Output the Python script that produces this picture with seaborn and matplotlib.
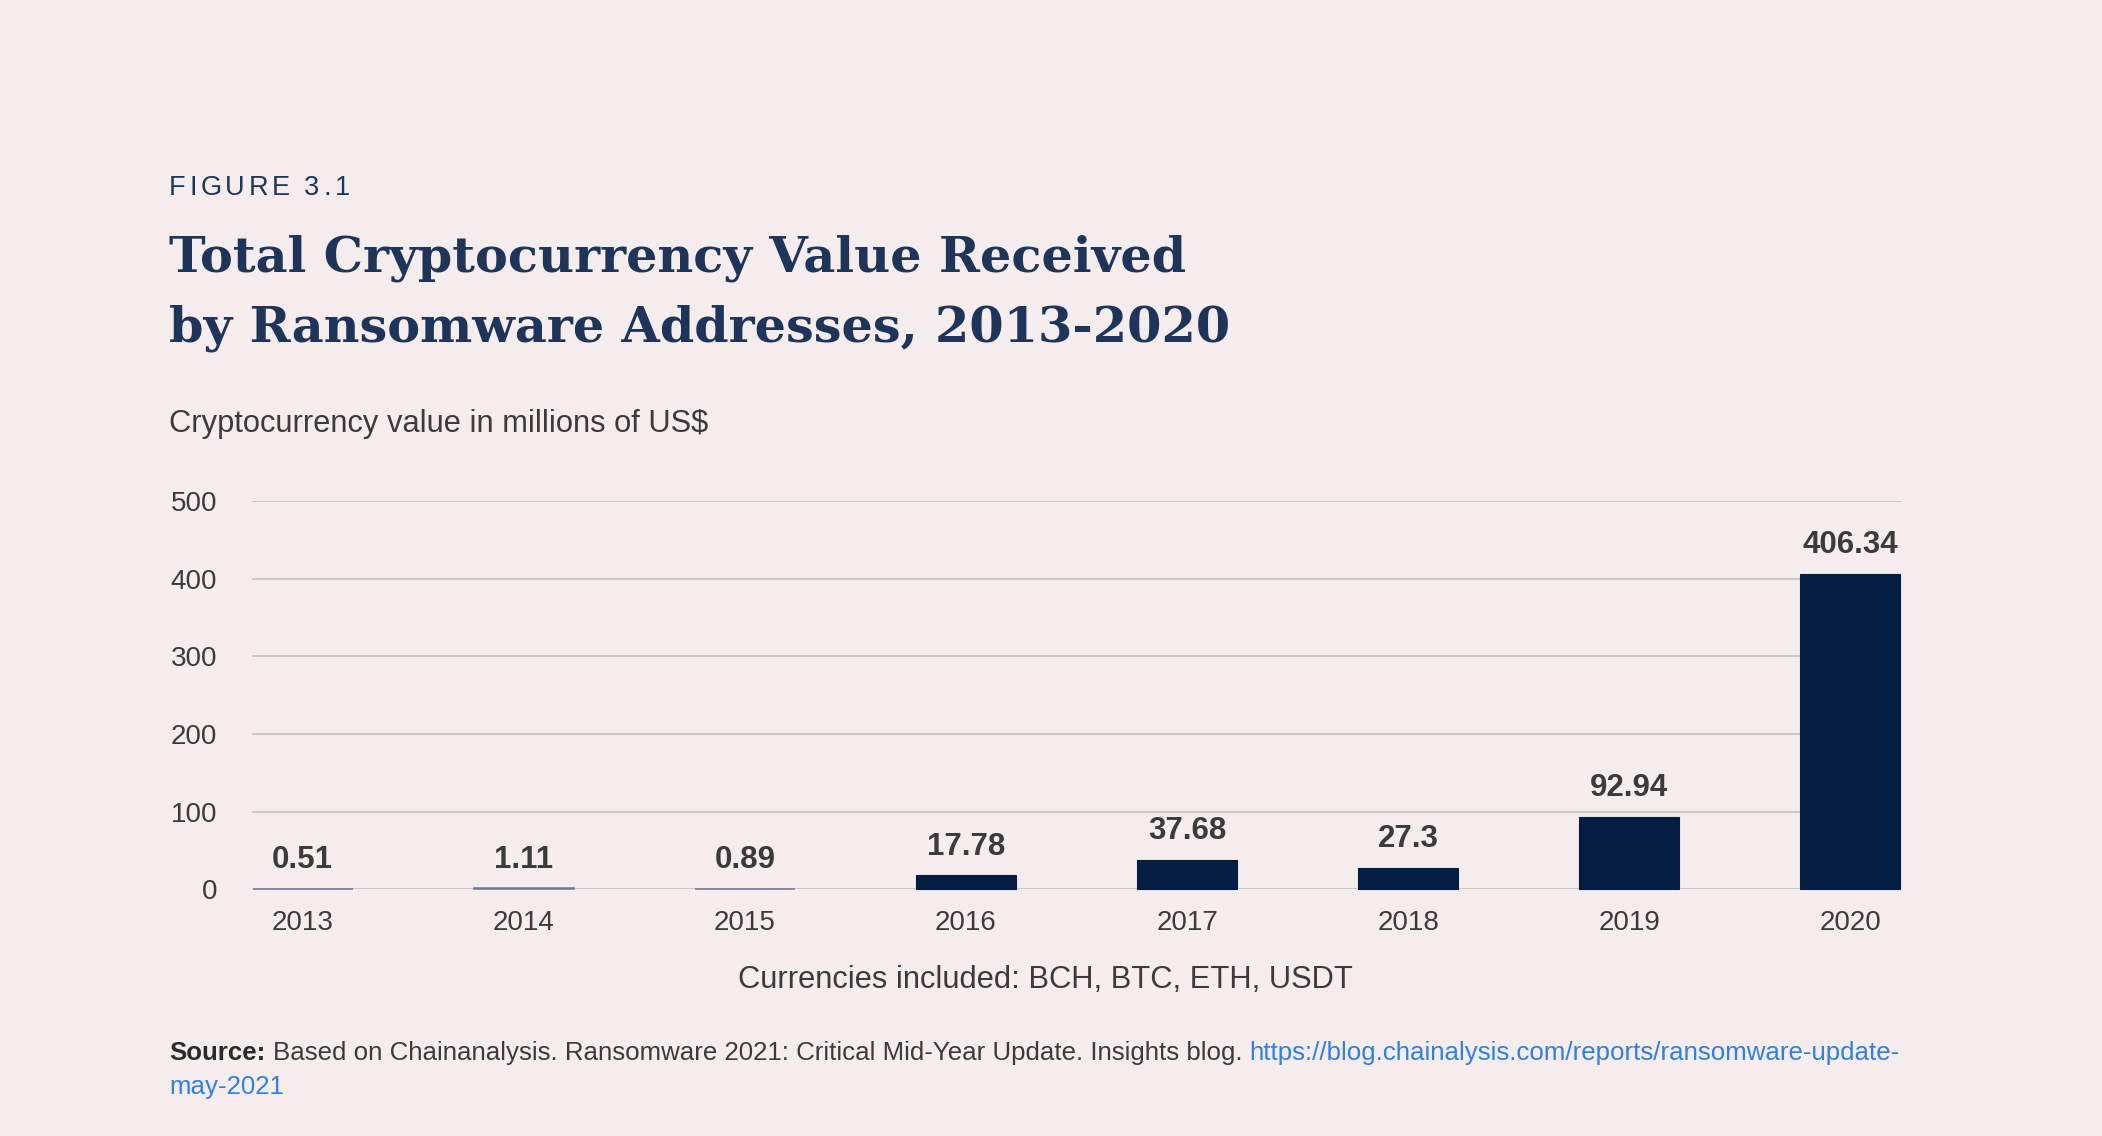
import matplotlib
matplotlib.use("Agg")
import matplotlib.pyplot as plt
import seaborn as sns
import pandas as pd

# ---------------- data ----------------
years = ["2013", "2014", "2015", "2016", "2017", "2018", "2019", "2020"]
values = [0.51, 1.11, 0.89, 17.78, 37.68, 27.3, 92.94, 406.34]
value_labels = ["0.51", "1.11", "0.89", "17.78", "37.68", "27.3", "92.94", "406.34"]
y_ticks = [0, 100, 200, 300, 400, 500]

figure_label = "FIGURE 3.1"
title_lines = ["Total Cryptocurrency Value Received",
               "by Ransomware Addresses, 2013-2020"]
subtitle = "Cryptocurrency value in millions of US$"
note = "Currencies included: BCH, BTC, ETH, USDT"
source_bold = "Source:"
source_text = "Based on Chainanalysis. Ransomware 2021: Critical Mid-Year Update. Insights blog."
source_link1 = "https://blog.chainalysis.com/reports/ransomware-update-"
source_link2 = "may-2021"

# ---------------- style ----------------
BG = "#f5eded"
BAR = "#061d42"
TXT = "#3b3b3b"
TITLE = "#1e3459"
LINK = "#2f7fe6"
GRID = "#c9c6c6"

sns.set_theme(style="white")
plt.rcParams['font.family'] = ['Liberation Sans', 'DejaVu Sans']

W, H = 2102, 1136
fig = plt.figure(figsize=(W / 100, H / 100), dpi=100, facecolor=BG)
ax = fig.add_axes([252 / W, 1 - 889.3 / H, (1901 - 252) / W, (889.3 - 501) / H])
ax.set_facecolor(BG)

df = pd.DataFrame({"year": years, "value": values})
bw = 0.452
sns.barplot(data=df, x="year", y="value", color=BAR, saturation=1,
            width=bw, linewidth=0.8, edgecolor=BAR, ax=ax, zorder=3)
for p in ax.patches:
    p.set_clip_on(False)
    if p.get_height() < 5:
        p.set_edgecolor("#6b7792")
        p.set_facecolor("#6b7792")
        p.set_linewidth(1.1)

ax.set_ylim(0, 500)
ax.set_xlim(-0.457 / 2, len(years) - 1 + 0.457 / 2)
ax.set_yticks(y_ticks)
ax.set_yticklabels([str(v) for v in y_ticks])
ax.yaxis.grid(True, color=GRID, linewidth=1.4, zorder=0)
ax.set_axisbelow(True)
for s in ax.spines.values():
    s.set_visible(False)
ax.set_xlabel("")
ax.set_ylabel("")
ax.tick_params(axis='y', length=0, pad=25, labelsize=20, labelcolor=TXT)
ax.tick_params(axis='x', length=0, pad=15, labelsize=20, labelcolor=TXT)

ax.bar_label(ax.containers[0], labels=value_labels, padding=10,
             fontsize=22.5, fontweight='bold', color=TXT)

renderer = fig.canvas.get_renderer()


def ftext(x, y, s, **kw):
    return fig.text(x / W, 1 - y / H, s, va='baseline', **kw)


def width_of(t):
    return t.get_window_extent(renderer).width


def fit(t, target):
    t.set_fontsize(t.get_fontsize() * target / width_of(t))


def space_width(size, weight='normal'):
    a = ftext(0, 0, "x x", fontsize=size, fontweight=weight)
    b = ftext(0, 0, "xx", fontsize=size, fontweight=weight)
    w = width_of(a) - width_of(b)
    a.remove()
    b.remove()
    return w


# FIGURE 3.1 with letter spacing
fs_fig = 19.5
sw = space_width(fs_fig)
track = 3.6
x = 169
for ch in figure_label:
    if ch == " ":
        x += sw + track
        continue
    t = ftext(x, 195, ch, fontsize=fs_fig, color=TITLE)
    x += width_of(t) + track

# Title
t2 = ftext(169, 342, title_lines[1], fontsize=40, fontweight='bold',
           color=TITLE, family=['DejaVu Serif'])
fit(t2, 1062)
t1 = ftext(169, 272, title_lines[0], fontsize=t2.get_fontsize(), fontweight='bold',
           color=TITLE, family=['DejaVu Serif'])

# Subtitle
st = ftext(169, 432, subtitle, fontsize=22, color=TXT)
fit(st, 538)

# Note below axis
nt = fig.text(1045 / W, 1 - 988 / H, note, ha='center', va='baseline',
              fontsize=22, color=TXT)
fit(nt, 613)


# Source lines
def draw_source(size):
    items = []
    x = 169
    sp = space_width(size)
    t = ftext(x, 1060, source_bold, fontsize=size, fontweight='bold', color="#2b2b2b")
    items.append(t)
    x += width_of(t) + sp
    t = ftext(x, 1060, source_text, fontsize=size, color=TXT)
    items.append(t)
    x += width_of(t) + sp
    t = ftext(x, 1060, source_link1, fontsize=size, color=LINK)
    items.append(t)
    x += width_of(t)
    return items, x - 169


items, total = draw_source(17)
for it in items:
    it.remove()
fs_src = 17 * 1737 / total
draw_source(fs_src)
ftext(169, 1094, source_link2, fontsize=fs_src, color=LINK)

fig.savefig("out.png", dpi=100, facecolor=BG)
